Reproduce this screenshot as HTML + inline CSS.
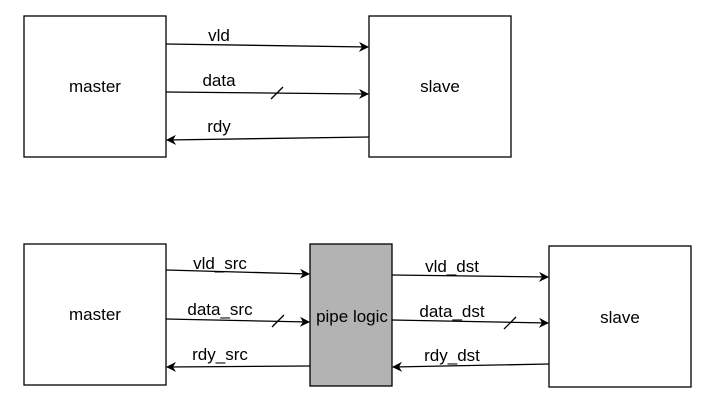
<!DOCTYPE html>
<html><head><style>body{margin:0;background:#fff}svg{display:block}</style></head>
<body>
<svg width="707" height="404" xmlns="http://www.w3.org/2000/svg" font-family="Liberation Sans, Arial, sans-serif" font-size="17">
<defs><marker id="a" markerWidth="10" markerHeight="10" refX="9" refY="5" orient="auto" markerUnits="userSpaceOnUse"><path d="M0,0 L10,5 L0,10 L3,5 z" fill="#000"/></marker></defs>
<g fill="#fff" stroke="#000" stroke-width="1.3">
<rect x="24" y="16" width="142" height="141"/>
<rect x="369" y="16" width="142" height="141"/>
<rect x="24" y="244" width="142" height="141"/>
<rect x="310" y="244" width="82" height="142" fill="#b3b3b3"/>
<rect x="549" y="246" width="142" height="141"/>
</g>
<g stroke="#000" stroke-width="1.3" marker-end="url(#a)">
<line x1="166" y1="44" x2="368" y2="47"/>
<line x1="166" y1="92" x2="368" y2="94"/>
<line x1="369" y1="137" x2="167" y2="140"/>
<line x1="166" y1="270" x2="309" y2="274"/>
<line x1="166" y1="319" x2="309" y2="322"/>
<line x1="310" y1="366" x2="167" y2="367"/>
<line x1="392" y1="275" x2="548" y2="277"/>
<line x1="392" y1="320" x2="548" y2="323"/>
<line x1="549" y1="364" x2="393" y2="367"/>
</g>
<g stroke="#000" stroke-width="1.3">
<line x1="271" y1="99" x2="283" y2="87"/>
<line x1="272" y1="327" x2="284" y2="315"/>
<line x1="504" y1="329" x2="516" y2="317"/>
</g>
<g fill="#000" text-anchor="middle">
<text x="95" y="92">master</text>
<text x="440" y="92">slave</text>
<text x="95" y="320">master</text>
<text x="352" y="322">pipe logic</text>
<text x="620" y="323">slave</text>
<text x="219" y="41">vld</text>
<text x="219" y="86">data</text>
<text x="219" y="132">rdy</text>
<text x="220" y="269">vld_src</text>
<text x="220" y="315">data_src</text>
<text x="220" y="360">rdy_src</text>
<text x="452" y="272">vld_dst</text>
<text x="452" y="317">data_dst</text>
<text x="452" y="361">rdy_dst</text>
</g>
</svg>
</body></html>
